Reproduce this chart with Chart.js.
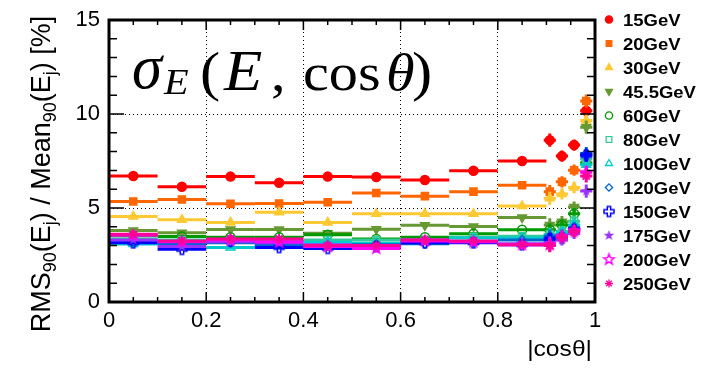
<!DOCTYPE html>
<html>
<head>
<meta charset="utf-8">
<script src="https://cdn.jsdelivr.net/npm/chart.js@4.4.0/dist/chart.umd.min.js"></script>
<style>
body { margin: 0; background: #fff; }
#wrap { width: 711px; height: 369px; }
</style>
</head>
<body>
<div id="wrap"><canvas id="myChart" width="711" height="369"></canvas></div>
<script>
// |cos theta| bins: ten barrel bins and four narrow forward ones
var binCenters = [0.05, 0.15, 0.25, 0.35, 0.45, 0.55, 0.65, 0.75, 0.85, 0.907, 0.932, 0.957, 0.982];
var binHalfWidths = [0.05, 0.05, 0.05, 0.05, 0.05, 0.05, 0.05, 0.05, 0.05, 0.0125, 0.0125, 0.0125, 0.0125];
var yErrors = [0.08, 0.08, 0.08, 0.08, 0.08, 0.08, 0.08, 0.08, 0.08, 0.35, 0.3, 0.3, 0.35];

var energies = ["15GeV", "20GeV", "30GeV", "45.5GeV", "60GeV", "80GeV", "100GeV", "120GeV", "150GeV", "175GeV", "200GeV", "250GeV"];

var rms15  = [6.70, 6.13, 6.67, 6.34, 6.67, 6.65, 6.49, 6.98, 7.50, 8.61, 7.76, 8.35, 10.17];
var rms20  = [5.35, 5.45, 5.22, 5.24, 5.31, 5.80, 5.63, 5.87, 6.21, 5.87, 6.39, 7.01, 10.69];
var rms30  = [4.55, 4.38, 4.23, 4.78, 4.23, 4.69, 4.69, 4.69, 5.10, 5.52, 5.75, 6.09, 9.65];
var rms45  = [3.80, 3.68, 3.86, 3.86, 3.66, 3.87, 4.08, 4.02, 4.50, 4.10, 4.27, 5.05, 9.30];
var rms60  = [3.52, 3.49, 3.45, 3.45, 3.58, 3.35, 3.45, 3.63, 3.84, 3.84, 4.10, 4.70, 7.40];
var rms80  = [3.35, 3.30, 3.28, 3.25, 3.30, 3.30, 3.30, 3.45, 3.50, 3.60, 3.75, 4.30, 7.60];
var rms100 = [3.08, 3.15, 2.90, 3.05, 3.18, 3.12, 3.20, 3.40, 3.40, 3.55, 3.70, 4.10, 7.30];
var rms120 = [3.22, 3.10, 3.15, 3.05, 3.00, 3.05, 3.10, 3.20, 3.30, 3.50, 3.55, 3.95, 7.90];
var rms150 = [3.15, 2.80, 3.25, 2.90, 2.85, 2.95, 3.15, 3.15, 3.05, 3.35, 3.40, 3.85, 7.80];
var rms175 = [3.30, 2.95, 3.20, 3.15, 3.05, 2.95, 3.30, 3.20, 3.10, 3.15, 3.30, 3.65, 5.90];
var rms200 = [3.55, 3.20, 3.30, 3.20, 2.95, 2.85, 3.25, 3.20, 3.05, 3.05, 3.50, 3.80, 6.90];
var rms250 = [3.60, 3.25, 3.35, 3.35, 3.00, 3.00, 3.30, 3.25, 3.05, 3.00, 3.45, 3.75, 6.70];

var xTicks = [0, 0.2, 0.4, 0.6, 0.8, 1];
var yTicks = [0, 5, 10, 15];

var allSeries = [rms15, rms20, rms30, rms45, rms60, rms80, rms100, rms120, rms150, rms175, rms200, rms250];
var colors = ["#ff0000", "#ff6600", "#ffc933", "#669933", "#009900", "#33cc99",
              "#00cccc", "#0066cc", "#0000ff", "#9933ff", "#ff00ff", "#ff0099"];

// little canvases for the ROOT markers chart.js does not have
function makeMarker(kind, color, r) {
  var c = document.createElement('canvas');
  var s = Math.ceil(r * 2 + 4);
  c.width = s; c.height = s;
  var g = c.getContext('2d');
  g.translate(s / 2, s / 2);
  g.strokeStyle = color; g.fillStyle = color; g.lineWidth = 1.5;
  g.beginPath();
  if (kind === 'pluso') {
    var a = r / 3;
    g.moveTo(-a, -r); g.lineTo(a, -r); g.lineTo(a, -a); g.lineTo(r, -a); g.lineTo(r, a);
    g.lineTo(a, a); g.lineTo(a, r); g.lineTo(-a, r); g.lineTo(-a, a); g.lineTo(-r, a);
    g.lineTo(-r, -a); g.lineTo(-a, -a); g.closePath();
    g.stroke();
  } else {
    for (var i = 0; i < 10; i++) {
      var rr = i % 2 === 0 ? r : r * 0.42;
      var ang = -Math.PI / 2 + i * Math.PI / 5;
      g.lineTo(Math.cos(ang) * rr, Math.sin(ang) * rr);
    }
    g.closePath();
    if (kind === 'starf') g.fill(); else g.stroke();
  }
  return c;
}

var clear = 'rgba(0,0,0,0)';
var markers = [
  {style: 'circle', r: 4.5, fill: true},
  {style: 'rect', r: 5, fill: true},
  {style: 'triangle', r: 5, fill: true},
  {style: 'triangle', r: 5, fill: true, rot: 180},
  {style: 'circle', r: 4.5, fill: false},
  {style: 'rect', r: 5, fill: false},
  {style: 'triangle', r: 5, fill: false},
  {style: 'rectRot', r: 4.5, fill: false},
  {style: makeMarker('pluso', colors[8], 5), r: 5, fill: false},
  {style: makeMarker('starf', colors[9], 5.5), r: 5, fill: true},
  {style: makeMarker('staro', colors[10], 5.5), r: 5, fill: false},
  {style: 'star', r: 5, fill: false}
];

var datasets = allSeries.map(function (vals, k) {
  return {
    label: energies[k],
    data: binCenters.map(function (x, i) { return {x: x, y: vals[i]}; }),
    showLine: false,
    pointStyle: markers[k].style,
    pointRadius: markers[k].r,
    pointRotation: markers[k].rot || 0,
    pointBackgroundColor: markers[k].fill ? colors[k] : clear,
    pointBorderColor: colors[k],
    pointBorderWidth: markers[k].style === 'star' ? 1.8 : 1.5,
    borderColor: colors[k],
    order: -k
  };
});

var SX = 1.12; // the reference text is a bit wide

function wideText(ctx, txt, x, y, font, align, sx) {
  sx = sx || SX;
  ctx.save();
  ctx.font = font;
  var w = ctx.measureText(txt).width * sx;
  var x0 = align === 'right' ? x - w : x;
  ctx.translate(x0, y);
  ctx.scale(sx, 1);
  ctx.fillText(txt, 0, 0);
  ctx.restore();
}

var errorBars = {
  id: 'errorBars',
  beforeDatasetDraw: function (chart, args) {
    var ds = chart.data.datasets[args.index];
    var xs = chart.scales.x, ys = chart.scales.y, ctx = chart.ctx, a = chart.chartArea;
    var vals = allSeries[args.index];
    ctx.save();
    ctx.beginPath(); ctx.rect(a.left, a.top, a.right - a.left, a.bottom - a.top); ctx.clip();
    ctx.strokeStyle = ds.borderColor;
    ctx.lineWidth = 3;
    binCenters.forEach(function (c, i) {
      var py = ys.getPixelForValue(vals[i]);
      var px = xs.getPixelForValue(c);
      ctx.beginPath();
      ctx.moveTo(xs.getPixelForValue(c - binHalfWidths[i]), py);
      ctx.lineTo(xs.getPixelForValue(c + binHalfWidths[i]), py);
      ctx.moveTo(px, ys.getPixelForValue(vals[i] - yErrors[i]));
      ctx.lineTo(px, ys.getPixelForValue(vals[i] + yErrors[i]));
      ctx.stroke();
    });
    ctx.restore();
  }
};

var frameAndText = {
  id: 'frameAndText',
  afterDatasetsDraw: function (chart) {
    var ctx = chart.ctx, a = chart.chartArea, xs = chart.scales.x, ys = chart.scales.y;
    ctx.save();
    ctx.strokeStyle = '#000';
    ctx.lineWidth = 3;
    ctx.strokeRect(a.left, a.top, a.right - a.left, a.bottom - a.top);
    ctx.lineWidth = 1.5;
    ctx.beginPath();
    for (var v = 0; v <= 15; v++) {
      var len = v % 5 === 0 ? 15 : 8;
      var py = ys.getPixelForValue(v);
      ctx.moveTo(a.left, py); ctx.lineTo(a.left + len, py);
      ctx.moveTo(a.right, py); ctx.lineTo(a.right - len, py);
    }
    for (var j = 0; j <= 20; j++) {
      var l2 = j % 4 === 0 ? 10 : 5;
      var px = xs.getPixelForValue(j * 0.05);
      ctx.moveTo(px, a.bottom); ctx.lineTo(px, a.bottom - l2);
      ctx.moveTo(px, a.top); ctx.lineTo(px, a.top + l2);
    }
    ctx.stroke();

    ctx.fillStyle = '#000';
    // x title
    wideText(ctx, '|cos\u03b8|', 592, 356, '22px "Liberation Sans", Arial, sans-serif', 'right');

    // y title, rotated, with subscripts
    var parts = [['RMS', 27, 0], ['90', 18, 6], ['(E', 27, 0], ['j', 18, 6], [') / Mean', 27, 0],
                 ['90', 18, 6], ['(E', 27, 0], ['j', 18, 6], [') [%]', 27, 0]];
    var total = 0;
    parts.forEach(function (p) {
      ctx.font = p[1] + 'px "Liberation Sans", Arial, sans-serif';
      p.push(ctx.measureText(p[0]).width);
      total += p[3];
    });
    ctx.save();
    ctx.translate(50, 174);
    ctx.rotate(-Math.PI / 2);
    var cx = -total / 2;
    parts.forEach(function (p) {
      ctx.font = p[1] + 'px "Liberation Sans", Arial, sans-serif';
      ctx.fillText(p[0], cx, p[2]);
      cx += p[3];
    });
    ctx.restore();

    // sigma_E(E, cos theta)
    var serif = '"Liberation Serif", "DejaVu Serif", serif';
    wideText(ctx, '\u03c3', 132, 88, 'italic 64px ' + serif, null, 0.95);
    wideText(ctx, 'E', 164, 94, 'italic 36px ' + serif);
    wideText(ctx, '(', 200, 90, '54px ' + serif);
    wideText(ctx, 'E', 224, 90, 'italic 56px ' + serif);
    wideText(ctx, ',', 271, 90, '52px ' + serif);
    wideText(ctx, 'cos', 303, 90, '52px ' + serif);
    wideText(ctx, '\u03b8', 386, 90, 'italic 52px ' + serif);
    wideText(ctx, ')', 412, 90, '54px ' + serif);

    // legend
    energies.forEach(function (name, k) {
      var yy = 19.5 + k * 24;
      var m = markers[k];
      ctx.save();
      ctx.fillStyle = m.fill ? colors[k] : clear;
      ctx.strokeStyle = colors[k];
      ctx.lineWidth = 1.3;
      Chart.helpers.drawPoint(ctx, {pointStyle: m.style, radius: m.r * 0.8, rotation: m.rot || 0, borderWidth: 1.3}, 609, yy);
      ctx.restore();
      wideText(ctx, name, 623, yy + 6, 'bold 16.5px "Liberation Sans", Arial, sans-serif');
    });
    ctx.restore();
  }
};

var tickFont = { family: '"Liberation Sans", Arial, sans-serif', size: 22, lineHeight: 1 };

var ctx = document.getElementById("myChart").getContext('2d');
var myChart = new Chart(ctx, {
  type: 'scatter',
  data: { datasets: datasets },
  options: {
    responsive: false,
    animation: false,
    layout: { padding: { top: 11, right: 116, left: 0, bottom: 0 } },
    plugins: { legend: { display: false }, tooltip: { enabled: false } },
    scales: {
      x: {
        type: 'linear', min: 0, max: 1,
        afterFit: function (s) { s.height = 67; },
        afterBuildTicks: function (s) { s.ticks = xTicks.map(function (v) { return {value: v}; }); },
        grid: {
          drawTicks: false, lineWidth: 1,
          color: function (c) { return (c.tick && c.tick.value > 0 && c.tick.value < 1) ? '#000' : clear; }
        },
        border: { display: false, dash: [1, 3] },
        ticks: { color: '#000', padding: 8, maxRotation: 0, font: tickFont,
                 callback: function (v) { return String(v); } }
      },
      y: {
        min: 0, max: 15,
        afterFit: function (s) { s.width = 109; },
        afterBuildTicks: function (s) { s.ticks = yTicks.map(function (v) { return {value: v}; }); },
        grid: {
          drawTicks: false, lineWidth: 1,
          color: function (c) { return (c.tick && c.tick.value > 0 && c.tick.value < 15) ? '#000' : clear; }
        },
        border: { display: false, dash: [1, 3] },
        ticks: { color: '#000', padding: 9, font: tickFont,
                 callback: function (v) { return String(v); } }
      }
    }
  },
  plugins: [errorBars, frameAndText]
});
</script>
</body>
</html>
